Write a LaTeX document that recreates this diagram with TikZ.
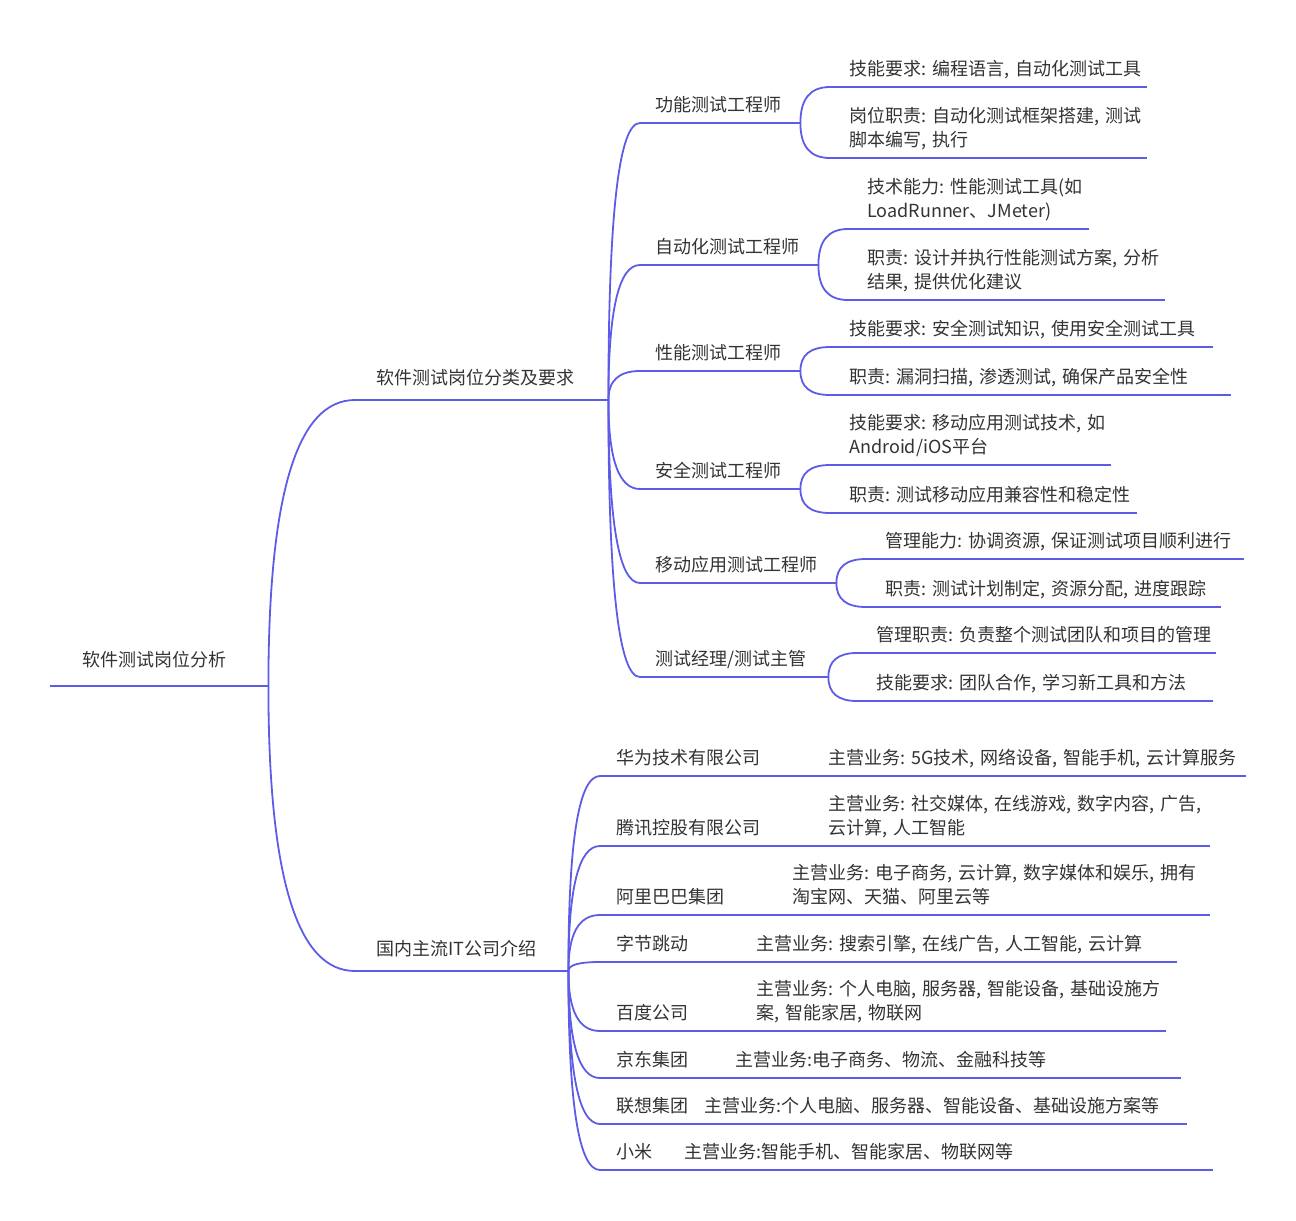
\documentclass[tikz,border=0pt]{standalone}
\usepackage{fontspec}
\setmainfont{Noto Sans CJK SC}
\usetikzlibrary{calc}
\definecolor{mmline}{RGB}{92,92,230}
\definecolor{mmtext}{RGB}{51,51,51}

\begin{document}
\begin{tikzpicture}[x=1pt,y=-1pt,
  line/.style={draw=mmline,line width=1.8pt},
  txt/.style={anchor=south west,align=left,text=mmtext,font=\fontsize{18}{24}\selectfont,text depth=0pt},
  two/.style={text depth=24pt},
  rootnode/.style={txt,inner xsep=32pt,inner ysep=19.5pt,text width=#1-64pt},
  branch/.style={txt,inner xsep=21pt,inner ysep=15.5pt,text width=#1-42pt},
  topic/.style={txt,inner xsep=15pt,inner ysep=11.5pt,text width=#1-30pt},
  leaf/.style={txt,inner xsep=19pt,inner ysep=11.5pt,text width=#1-38pt},
  firm/.style={txt,inner xsep=16pt,inner ysep=11.5pt,text width=#1-32pt},
  biz/.style={txt,inner xsep=18pt,inner ysep=11.5pt,text width=#1-36pt}]
  \useasboundingbox (0,0) rectangle (1296,1221);

  \node[rootnode=218pt] (root) at (50,686) {软件测试岗位分析};
  \node[branch=253pt] (jobs) at (355,400) {软件测试岗位分类及要求};
  \node[branch=213pt] (corp) at (355,971) {国内主流IT公司介绍};

  \node[topic=160pt] (gn) at (640,123) {功能测试工程师};
  \node[topic=178pt] (zdh) at (640,265) {自动化测试工程师};
  \node[topic=160pt] (xn) at (640,371) {性能测试工程师};
  \node[topic=160pt] (aq) at (640,489) {安全测试工程师};
  \node[topic=196pt] (yd) at (640,583) {移动应用测试工程师};
  \node[topic=188pt] (jl) at (640,677) {测试经理/测试主管};

  \node[leaf=317pt] (gn1) at (830,87) {技能要求:~编程语言,~自动化测试工具};
  \node[leaf=317pt,two] (gn2) at (830,158) {岗位职责:~自动化测试框架搭建,~测试\\脚本编写,~执行};
  \node[leaf=241pt,two] (zdh1) at (848,229) {技术能力:~性能测试工具(如\\LoadRunner、JMeter)};
  \node[leaf=317pt,two] (zdh2) at (848,300) {职责:~设计并执行性能测试方案,~分析\\结果,~提供优化建议};
  \node[leaf=383pt] (xn1) at (830,347) {技能要求:~安全测试知识,~使用安全测试工具};
  \node[leaf=401pt] (xn2) at (830,395) {职责:~漏洞扫描,~渗透测试,~确保产品安全性};
  \node[leaf=281pt,two] (aq1) at (830,465) {技能要求:~移动应用测试技术,~如\\Android/iOS平台};
  \node[leaf=307pt] (aq2) at (830,513) {职责:~测试移动应用兼容性和稳定性};
  \node[leaf=378pt] (yd1) at (866,559) {管理能力:~协调资源,~保证测试项目顺利进行};
  \node[leaf=355pt] (yd2) at (866,607) {职责:~测试计划制定,~资源分配,~进度跟踪};
  \node[leaf=359pt] (jl1) at (857,653) {管理职责:~负责整个测试团队和项目的管理};
  \node[leaf=356pt] (jl2) at (857,701) {技能要求:~团队合作,~学习新工具和方法};

  \node[firm=210pt] (hw) at (600,776) {华为技术有限公司};
  \node[firm=210pt] (tx) at (600,846) {腾讯控股有限公司};
  \node[firm=174pt] (ali) at (600,915) {阿里巴巴集团};
  \node[firm=138pt] (zj) at (600,962) {字节跳动};
  \node[firm=138pt] (baidu) at (600,1031) {百度公司};
  \node[firm=117pt] (jd) at (600,1078) {京东集团};
  \node[firm=86pt] (lx) at (600,1124) {联想集团};
  \node[firm=66pt] (mi) at (600,1170) {小米};

  \node[biz=436pt] (hwbiz) at (810,776) {主营业务:~5G技术,~网络设备,~智能手机,~云计算服务};
  \node[biz=400pt,two] (txbiz) at (810,846) {主营业务:~社交媒体,~在线游戏,~数字内容,~广告,\\云计算,~人工智能};
  \node[biz=436pt,two] (alibiz) at (774,915) {主营业务:~电子商务,~云计算,~数字媒体和娱乐,~拥有\\淘宝网、天猫、阿里云等};
  \node[biz=439pt] (zjbiz) at (738,962) {主营业务:~搜索引擎,~在线广告,~人工智能,~云计算};
  \node[biz=428pt,two] (baidubiz) at (738,1031) {主营业务:~个人电脑,~服务器,~智能设备,~基础设施方\\案,~智能家居,~物联网};
  \node[biz=464pt] (jdbiz) at (717,1078) {主营业务:电子商务、物流、金融科技等};
  \node[biz=501pt] (lxbiz) at (686,1124) {主营业务:个人电脑、服务器、智能设备、基础设施方案等};
  \node[biz=547pt] (mibiz) at (666,1170) {主营业务:智能手机、智能家居、物联网等};

  \foreach \n in {root,jobs,corp,gn,zdh,xn,aq,yd,jl,gn1,gn2,zdh1,zdh2,xn1,xn2,aq1,aq2,yd1,yd2,jl1,jl2,
    hw,tx,ali,zj,baidu,jd,lx,mi,hwbiz,txbiz,alibiz,zjbiz,baidubiz,jdbiz,lxbiz,mibiz}
    \draw[line] (\n.south west) -- (\n.south east);

  \foreach \p/\c in {root/jobs,root/corp,jobs/gn,jobs/zdh,jobs/xn,jobs/aq,jobs/yd,jobs/jl,
    gn/gn1,gn/gn2,zdh/zdh1,zdh/zdh2,xn/xn1,xn/xn2,aq/aq1,aq/aq2,yd/yd1,yd/yd2,jl/jl1,jl/jl2,
    corp/hw,corp/tx,corp/ali,corp/zj,corp/baidu,corp/jd,corp/lx,corp/mi}{
    \coordinate (k) at (\p.south east|-\c.south west);
    \draw[line] (\p.south east) .. controls ($(\p.south east)!.67!(k)$) and ($(\c.south west)!.67!(k)$) .. (\c.south west);
  }
\end{tikzpicture}
\end{document}
